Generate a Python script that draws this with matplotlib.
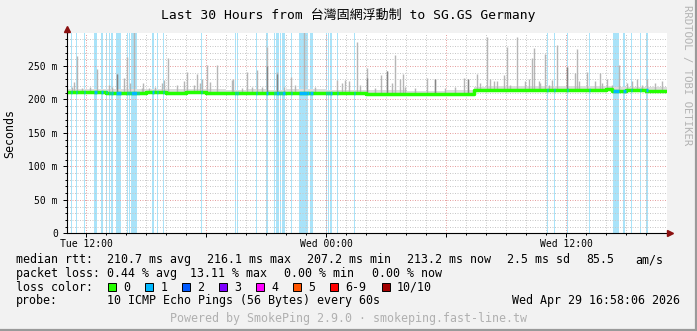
import numpy as np
import matplotlib
matplotlib.use('Agg')
import matplotlib.pyplot as plt
from matplotlib.patches import Rectangle
from matplotlib.lines import Line2D

W, H = 697, 331
MONO = 'DejaVu Sans Mono'

# time axis: hours since Tue 00:00
t_start, t_end = 11.02, 41.02

# median rtt (ms), step values starting at these hours
median_hours = [11.0, 12.0, 13.0, 14.0, 15.0, 16.0, 17.0, 18.0, 19.0, 20.0, 21.0,
                22.0, 23.0, 24.0, 25.0, 26.0, 27.0, 28.0, 29.0, 30.0, 31.0, 31.4,
                32.0, 33.0, 34.0, 35.0, 36.0, 37.0, 38.0, 38.3, 39.0, 40.0]
median_ms = [210.5, 210.8, 210.3, 210.0, 210.4, 210.2, 210.6, 210.0, 209.8, 210.2, 209.6,
             210.0, 210.3, 209.5, 209.0, 208.6, 208.4, 208.2, 208.3, 208.5, 208.4, 214.3,
             214.5, 214.6, 214.4, 214.7, 214.8, 214.6, 214.9, 213.3, 213.4, 213.2]

# periods with packet loss (hours)
loss_start = [11.21, 11.475, 11.875, 12.375, 12.725, 12.975, 13.145, 13.225, 13.295, 13.46,
              14.045, 14.145, 14.21, 14.56, 15.26, 15.51, 15.845, 17.725, 19.425, 19.525,
              20.01, 20.475, 20.96, 21.26, 21.375, 21.475, 21.675, 21.81, 22.21, 22.645,
              23.06, 23.195, 23.975, 24.095, 24.175, 24.56, 25.01, 25.375, 35.025, 35.375,
              36.045, 37.125, 38.36, 38.825, 39.225, 39.675, 39.96]
loss_end = [11.26, 11.525, 11.925, 12.525, 12.845, 13.025, 13.195, 13.275, 13.345, 13.71,
            14.095, 14.195, 14.51, 14.61, 15.395, 15.56, 15.895, 17.775, 19.475, 19.575,
            20.06, 20.525, 21.095, 21.31, 21.425, 21.645, 21.725, 21.925, 22.26, 23.025,
            23.11, 23.345, 24.025, 24.145, 24.295, 24.61, 25.06, 25.425, 35.075, 35.425,
            36.095, 37.175, 38.645, 38.96, 39.275, 39.725, 40.06]

# smoke spikes (top ping in ms)
spike_hours = [11.29, 11.4, 11.54, 11.79, 12.2, 12.54, 13.12, 13.29, 13.54, 13.87, 14.04,
               14.19, 14.39, 14.79, 14.84, 15.12, 15.45, 15.79, 15.89, 16.09, 16.54, 16.87,
               17.04, 17.37, 17.54, 17.7, 17.79, 18.04, 18.19, 18.54, 19.29, 19.34, 19.79,
               20.04, 20.29, 20.54, 20.79, 21.04, 21.54, 21.87, 22.24, 22.45, 22.87, 23.45,
               24.54, 24.79, 24.94, 25.12, 25.54, 25.7, 26.04, 26.45, 26.74, 27.04, 27.29,
               27.45, 27.7, 27.82, 27.95, 28.45, 29.04, 29.45, 29.95, 30.45, 30.87, 31.09,
               31.54, 31.7, 32.04, 32.2, 32.37, 32.54, 32.87, 33.04, 33.2, 33.54, 33.95,
               34.12, 34.29, 34.37, 34.62, 34.69, 34.95, 35.12, 35.29, 35.54, 36.04, 36.45,
               36.54, 36.62, 37.04, 37.45, 37.69, 37.79, 38.04, 38.29, 38.62, 39.04, 39.29,
               39.54, 39.79, 40.04, 40.45, 40.79]
spike_ms = [219, 226, 265, 217, 218, 245, 222, 219, 238, 232, 263,
            224, 300, 217, 224, 217, 219, 224, 229, 262, 222, 227,
            241, 222, 238, 224, 231, 251, 226, 251, 229, 231, 217,
            241, 219, 244, 218, 278, 241, 219, 234, 222, 300, 218,
            229, 224, 229, 227, 286, 222, 247, 217, 237, 243, 224,
            266, 231, 238, 219, 217, 232, 231, 217, 219, 232, 231,
            238, 224, 293, 231, 227, 227, 237, 278, 222, 293, 227,
            231, 262, 277, 227, 224, 268, 222, 229, 282, 248, 239,
            276, 227, 241, 227, 239, 224, 231, 222, 251, 224, 227,
            231, 222, 231, 224, 227]
dark_hours = [13.54, 21.04, 21.54, 26.04, 27.04, 29.45, 31.09, 36.04]
dark_ms = [238, 250, 238, 232, 243, 231, 231, 248]

yticks = [0, 50, 100, 150, 200, 250]
ytick_labels = ['0', '50 m', '100 m', '150 m', '200 m', '250 m']
xticks = [12, 18, 24, 30, 36]
xtick_labels = ['Tue 12:00', '', 'Wed 00:00', '', 'Wed 12:00']

loss_names = ['0', '1', '2', '3', '4', '5', '6-9', '10/10']
loss_colors = ['#26ff00', '#00b8ff', '#0059ff', '#7e00ff', '#ff00ff', '#ff5500', '#ff0000', '#a10000']

rtt_stats = ['210.7 ms avg', '216.1 ms max', '207.2 ms min', '213.2 ms now', '2.5 ms sd', '85.5', 'am/s']
loss_stats = ['0.44 % avg', '13.11 % max', '0.00 % min', '0.00 % now']


def median_at(t):
    i = np.searchsorted(median_hours, t, side='right') - 1
    return median_ms[max(i, 0)]


fig = plt.figure(figsize=(W / 100, H / 100), dpi=100)
fig.patch.set_facecolor('#f2f2f2')

def px(x, y):
    return x / W, 1 - y / H

ax_l, ax_r, ax_t, ax_b = 66.7, 666.7, 32.5, 233.3
ax = fig.add_axes([ax_l / W, 1 - ax_b / H, (ax_r - ax_l) / W, (ax_b - ax_t) / H])
ax.set_facecolor('white')
ax.set_xlim(t_start, t_end)
ax.set_ylim(0, 300)

# loss background
for s, e in zip(loss_start, loss_end):
    ax.axvspan(s, e, color='#a9e3f9', lw=0, zorder=1)

# smoke
mh = median_hours + [t_end]
mv = median_ms + [median_ms[-1]]
ax.fill_between(mh, np.array(mv) - 1.5, np.array(mv) + 5, step='post', color='#dcdcdc', lw=0, zorder=2)
base = [median_at(t) for t in spike_hours]
ax.vlines(spike_hours, base, spike_ms, color='#b6b6b6', lw=1.0, zorder=2.2)
dbase = [median_at(t) for t in dark_hours]
ax.vlines(dark_hours, dbase, dark_ms, color='#858585', lw=1.0, zorder=2.3)

# median line coloured by loss
ax.step(mh, mv, where='post', color=loss_colors[0], lw=2.5, zorder=3)
for s, e in zip(loss_start, loss_end):
    m = median_at(s)
    ax.plot([s, e], [m, m], color=loss_colors[1], lw=2.5, zorder=3.5, solid_capstyle='butt')

# grid
ax.set_axisbelow('line')
ax.set_yticks(yticks)
ax.set_yticklabels(ytick_labels)
ax.set_yticks(np.arange(0, 300, 10), minor=True)
ax.set_xticks(xticks)
ax.set_xticklabels(xtick_labels)
ax.set_xticks(np.arange(12, 41, 1), minor=True)
ax.grid(which='minor', color='#c8c8c8', lw=0.72, ls=(0, (1, 1.5)))
ax.grid(which='major', color='#e6a0a0', lw=0.72, ls=(0, (1, 1.5)))
ax.tick_params(which='both', direction='out', length=3, width=0.72, labelsize=7, colors='black')
ax.tick_params(which='minor', length=1.5)
ax.tick_params(axis='y', pad=3.4)
ax.tick_params(axis='x', pad=1.2)
for lab in ax.get_xticklabels() + ax.get_yticklabels():
    lab.set_family(MONO)
for sp in ['top', 'right']:
    ax.spines[sp].set_visible(False)
for sp in ['left', 'bottom']:
    ax.spines[sp].set_linewidth(0.8)
    ax.spines[sp].set_zorder(5)
ax.plot([1.006], [0], marker='>', ms=4.5, color='#8b1010', transform=ax.transAxes, clip_on=False, zorder=6)
ax.plot([0], [1.018], marker='^', ms=4.5, color='#8b1010', transform=ax.transAxes, clip_on=False, zorder=6)
ax.plot([1.0, 1.006], [0, 0], color='black', lw=0.8, transform=ax.transAxes, clip_on=False, zorder=5)
ax.plot([0, 0], [1.0, 1.018], color='black', lw=0.8, transform=ax.transAxes, clip_on=False, zorder=5)

# texts
fig.text(*px(348, 19), 'Last 30 Hours from 台灣固網浮動制 to SG.GS Germany', ha='center', va='baseline',
         fontsize=9.4, family=[MONO, 'Noto Sans CJK TC'])
fig.text(*px(10, 133), 'Seconds', rotation=90, ha='center', va='center', fontsize=8.4, family=MONO)
fig.text(*px(686.7, 5), 'RRDTOOL / TOBI OETIKER', rotation=270, ha='center', va='top',
         fontsize=7.7, family=MONO, color='#b4b4b4')

fs = 8.37
def lt(x, y, s, **kw):
    fig.text(*px(x, y), s, ha='left', va='baseline', fontsize=fs, family=MONO, **kw)

lt(16, 263.3, 'median rtt:')
for x, s in zip([107.3, 207.3, 307.3, 406.7, 506.7, 586, 635], rtt_stats):
    lt(x, 263.3, s)
lt(16, 276.7, 'packet loss:')
for x, s in zip([107.3, 190, 284, 372.3], loss_stats):
    lt(x, 276.7, s)
lt(16, 291, 'loss color:')
swatch_x = [108.3, 145.3, 182.3, 219.3, 256.3, 293.3, 330.3, 381.7]
for x0, n, c in zip(swatch_x, loss_names, loss_colors):
    fig.add_artist(Rectangle(px(x0, 291), 8 / W, 8 / H, transform=fig.transFigure,
                             facecolor=c, edgecolor='black', lw=0.7))
    lt(x0 + 15, 291, n)
lt(16, 304.3, 'probe:')
lt(107.3, 304.3, '10 ICMP Echo Pings (56 Bytes) every 60s')
fig.text(*px(680, 304.3), 'Wed Apr 29 16:58:06 2026', ha='right', va='baseline', fontsize=fs, family=MONO)
fig.text(*px(348.5, 322), 'Powered by SmokePing 2.9.0 · smokeping.fast-line.tw', ha='center', va='baseline',
         fontsize=fs, family=MONO, color='#b0b0b0')

# frame
fig.add_artist(Line2D([0, 1], [1.5 / H, 1.5 / H], color='#9a9a9a', lw=1.6, transform=fig.transFigure))
fig.add_artist(Line2D([1 - 1.5 / W, 1 - 1.5 / W], [0, 1], color='#9a9a9a', lw=1.6, transform=fig.transFigure))

fig.savefig('out.png', dpi=100, facecolor=fig.get_facecolor())
